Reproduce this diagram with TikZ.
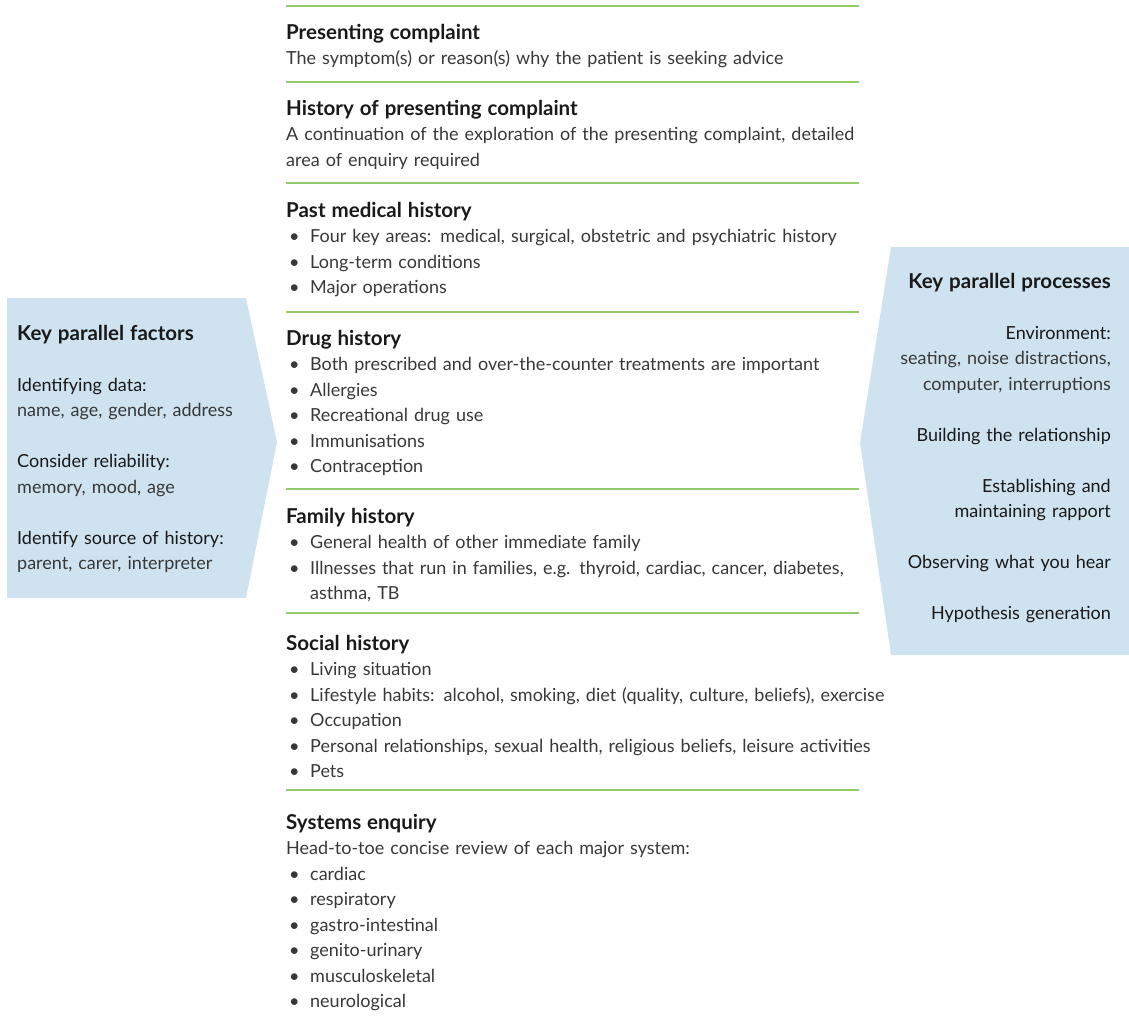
\documentclass[tikz,border=0pt]{standalone}
\usepackage{fontspec}
\setmainfont{Lato}
\usepackage{xcolor}
\definecolor{panelblue}{RGB}{206,226,239}
\definecolor{rulegreen}{RGB}{146,204,108}
\colorlet{headcolor}{black!90}
\colorlet{bodycolor}{black!78}
\newcommand\hd[1]{{\fontsize{20.5}{25.5}\selectfont\bfseries\color{headcolor}#1}}
\newcommand\bul{\makebox[24pt][l]{\hspace{3pt}\textbullet}}
\newcommand\ind{\hspace*{24pt}}
\tikzstyle{panel}=[fill=panelblue,draw=none]
\tikzstyle{sep}=[draw=rulegreen,line width=1.2pt]
\tikzstyle{txt}=[inner sep=0pt,font=\fontsize{18}{25.5}\selectfont,text=bodycolor]
\tikzstyle{sect}=[txt,anchor=base west,text width=620pt,align=left]

\begin{document}
\begin{tikzpicture}[x=1pt,y=-1pt]
	\useasboundingbox (0,0) rectangle (1129,1015);
	% side panels
	\fill[panel] (7,298) -- (246,298) -- (277,442) -- (246,598) -- (7,598) -- cycle;
	\fill[panel] (891,247) -- (1129,247) -- (1129,655) -- (891,655) -- (860,443) -- cycle;
	% green rules
	\foreach \y in {6,82,183,312,489,613,790}
		\draw[sep] (286,\y) -- (859,\y);
	\node[sect] (pc) at (286,39) {\hd{Presenting complaint}\\
		The symptom(s) or reason(s) why the patient is seeking advice};
	\node[sect] (hpc) at (286,115) {\hd{History of presenting complaint}\\
		A continuation of the exploration of the presenting complaint, detailed\\
		area of enquiry required};
	\node[sect] (pmh) at (286,217) {\hd{Past medical history}\\
		\bul Four key areas: medical, surgical, obstetric and psychiatric history\\
		\bul Long-term conditions\\
		\bul Major operations};
	\node[sect] (dh) at (286,345) {\hd{Drug history}\\
		\bul Both prescribed and over-the-counter treatments are important\\
		\bul Allergies\\
		\bul Recreational drug use\\
		\bul Immunisations\\
		\bul Contraception};
	\node[sect] (fh) at (286,523) {\hd{Family history}\\
		\bul General health of other immediate family\\
		\bul Illnesses that run in families, e.g. thyroid, cardiac, cancer, diabetes,\\
		\ind asthma, TB};
	\node[sect] (sh) at (286,650) {\hd{Social history}\\
		\bul Living situation\\
		\bul Lifestyle habits: alcohol, smoking, diet (quality, culture, beliefs), exercise\\
		\bul Occupation\\
		\bul Personal relationships, sexual health, religious beliefs, leisure activities\\
		\bul Pets};
	\node[sect] (se) at (286,829) {\hd{Systems enquiry}\\
		Head-to-toe concise review of each major system:\\
		\bul cardiac\\
		\bul respiratory\\
		\bul gastro-intestinal\\
		\bul genito-urinary\\
		\bul musculoskeletal\\
		\bul neurological};
	% panel texts
	\node[txt,anchor=base west,text width=250pt,align=left] (factors) at (17,340) {%
		\hd{Key parallel factors}\\[25.5pt]
		{\color{headcolor}Identifying data:}\\
		name, age, gender, address\\[25.5pt]
		{\color{headcolor}Consider reliability:}\\
		memory, mood, age\\[25.5pt]
		{\color{headcolor}Identify source of history:}\\
		parent, carer, interpreter};
	\node[txt,anchor=base east,text width=250pt,align=right] (processes) at (1111,288) {%
		\hd{Key parallel processes}\\[25.5pt]
		{\color{headcolor}Environment:}\\
		seating, noise distractions,\\
		computer, interruptions\\[25.5pt]
		{\color{headcolor}Building the relationship}\\[25.5pt]
		{\color{headcolor}Establishing and}\\
		{\color{headcolor}maintaining rapport}\\[25.5pt]
		{\color{headcolor}Observing what you hear}\\[25.5pt]
		{\color{headcolor}Hypothesis generation}};
\end{tikzpicture}
\end{document}
